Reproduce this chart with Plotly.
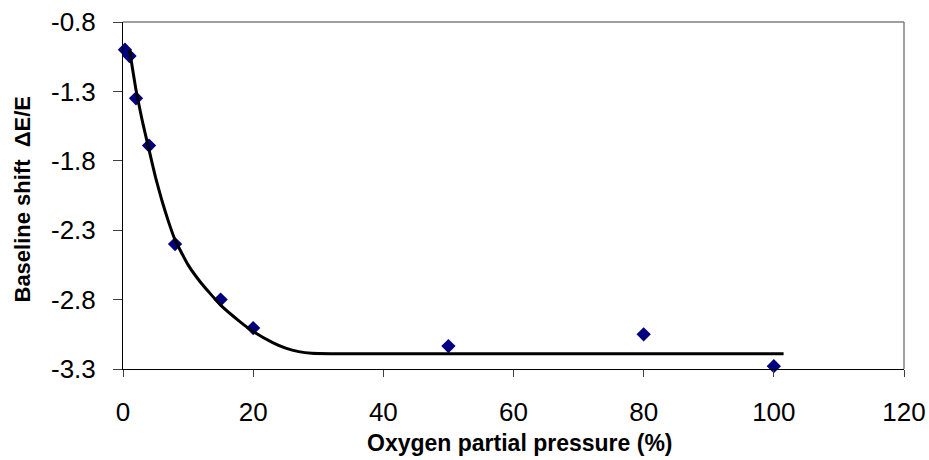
import plotly.graph_objects as go

# Measured data points
oxygen_pct = [0.3, 1, 2, 4, 8, 15, 20, 50, 80, 100]
baseline_shift = [-1.0, -1.045, -1.35, -1.69, -2.40, -2.80, -3.005, -3.135, -3.05, -3.28]

# Fitted curve
fit_x = [1, 2, 3, 4, 5, 6, 7, 8, 10, 12, 15, 18, 20, 23, 25, 27, 29, 32, 40, 60, 80, 101.5]
fit_y = [-1.0, -1.29, -1.52, -1.72, -1.92, -2.09, -2.24, -2.37, -2.55, -2.68, -2.84,
         -2.96, -3.03, -3.11, -3.15, -3.175, -3.187, -3.19, -3.19, -3.19, -3.19, -3.19]

x_ticks = [0, 20, 40, 60, 80, 100, 120]
y_ticks = [-3.3, -2.8, -2.3, -1.8, -1.3, -0.8]

FONT = "Liberation Sans, Arial, sans-serif"

fig = go.Figure()
fig.add_trace(go.Scatter(
    x=oxygen_pct, y=baseline_shift, mode="markers",
    marker=dict(symbol="diamond", size=11, color="#000080", line=dict(width=0)),
    showlegend=False, cliponaxis=False))
fig.add_trace(go.Scatter(
    x=fit_x, y=fit_y, mode="lines",
    line=dict(color="black", width=3, shape="spline", smoothing=0.4),
    showlegend=False))

fig.update_layout(
    width=929, height=460,
    margin=dict(l=123, r=25, t=22, b=91, autoexpand=False),
    paper_bgcolor="white", plot_bgcolor="white",
    font=dict(family=FONT, color="black"),
    xaxis=dict(range=[0, 120], tickvals=x_ticks, ticktext=[str(v) for v in x_ticks],
               automargin=False,
               showgrid=False, zeroline=False, showline=True, linecolor="black", linewidth=1,
               ticks="outside", ticklen=7, tickcolor="#404040", tickwidth=1,
               tickfont=dict(size=26, family=FONT), ticklabelstandoff=13),
    yaxis=dict(range=[-3.3, -0.8], tickvals=y_ticks, ticktext=[f"{v:.1f}" for v in y_ticks],
               automargin=False,
               showgrid=False, zeroline=False, showline=True, linecolor="black", linewidth=1,
               ticks="outside", ticklen=9, tickcolor="#404040", tickwidth=1,
               tickfont=dict(size=26, family=FONT), ticklabelstandoff=12),
    shapes=[
        dict(type="line", xref="paper", yref="paper", x0=0, x1=1, y0=1, y1=1,
             line=dict(color="#808080", width=1.5)),
        dict(type="line", xref="paper", yref="paper", x0=1, x1=1, y0=0, y1=1,
             line=dict(color="#808080", width=1.5)),
    ],
    annotations=[
        dict(text="<b>Oxygen partial pressure (%)</b>", xref="paper", yref="paper",
             x=0.508, y=0, xanchor="center", yanchor="middle", yshift=-74,
             showarrow=False, font=dict(size=23, family=FONT)),
        dict(text="<b>Baseline shift  \u0394E/E</b>", xref="paper", yref="paper",
             x=0, y=0.5, xanchor="center", yanchor="middle", xshift=-101, yshift=-4,
             textangle=-90, showarrow=False, font=dict(size=22, family=FONT)),
    ],
)

fig.write_html("out.html")
